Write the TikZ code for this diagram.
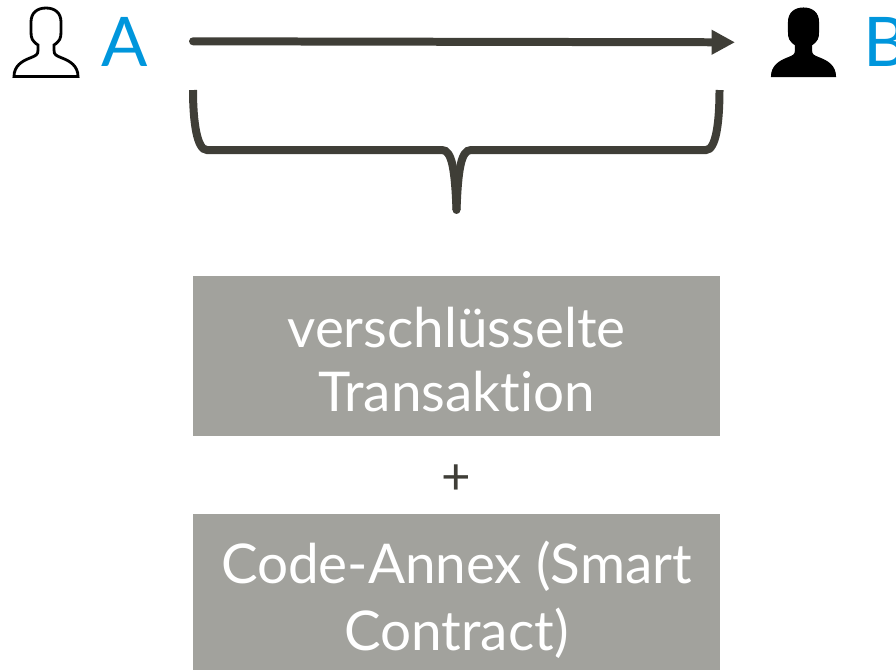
\documentclass[tikz,border=0pt]{standalone}
\usepackage{fontspec}
\setmainfont{Lato}[Ligatures=NoCommon]
\usetikzlibrary{arrows.meta}
\definecolor{darkline}{HTML}{3F3E37}
\definecolor{boxgrey}{HTML}{A2A29D}
\definecolor{nameblue}{HTML}{0096DC}
\tikzset{
  namelabel/.style={text=nameblue,font=\fontsize{39}{39}\selectfont,inner sep=0pt},
  greybox/.style={fill=boxgrey,text=white,minimum width=10.54cm,align=center,inner sep=0pt,
    font=\fontsize{31.2}{36}\selectfont},
  thickline/.style={draw=darkline,line width=4.55pt}
}
\def\personpath{(14,76.5) -- (78,76.5) .. controls (78,66) and (70,61) .. (62,58)
  .. controls (56,55.5) and (54,55) .. (54,50) -- (54,45) .. controls (60,41) and (61,38) .. (61,32)
  -- (61,22) .. controls (61,13) and (55,8) .. (46,8) .. controls (37,8) and (31,13) .. (31,22)
  -- (31,32) .. controls (31,38) and (32,41) .. (38,45) -- (38,50) .. controls (38,55) and (36,55.5) .. (30,58)
  .. controls (22,61) and (14,66) .. (14,76.5) -- cycle}
\begin{document}
\begin{tikzpicture}[x=.02cm,y=-.02cm]
\useasboundingbox (0,0) rectangle (896,670);

\coordinate (start) at (193,41.3);
\coordinate (end) at (735,42.3);

% the two persons
\draw[line width=1.6pt] \personpath;
\draw[shift={(757.5,0)},fill=black,line width=.6pt] \personpath;
\node[namelabel,anchor=base west] (nameA) at (101,66) {A};
\node[namelabel,anchor=base west] (nameB) at (863,66) {B};

\draw[thickline,line cap=round,-{Triangle[length=13.3pt,width=13.3pt]}] (start) -- (end);

% brace
\draw[thickline] (193,90) .. controls (193,122) and (197,150) .. (207,150) -- (442,150)
  .. controls (452,150) and (455,170) .. (456.5,210);
\draw[thickline] (719.5,90) .. controls (719.5,122) and (716,150) .. (706,150) -- (471,150)
  .. controls (461,150) and (458,170) .. (456.5,210);
\fill[darkline] (456.5,210) circle (2.27pt);

\node[greybox,minimum height=3.2cm] (transaction) at (456.5,356) {\rule{0pt}{27pt}verschlüsselte\\Transaktion};
\node[text=darkline,font=\fontsize{29}{29}\selectfont,inner sep=0pt] (plus) at (456,480) {+};
\node[greybox,minimum height=3.12cm] (annex) at (456.5,592) {\rule{0pt}{33pt}Code-Annex (Smart\\[1.7pt]Contract)};
\end{tikzpicture}
\end{document}
